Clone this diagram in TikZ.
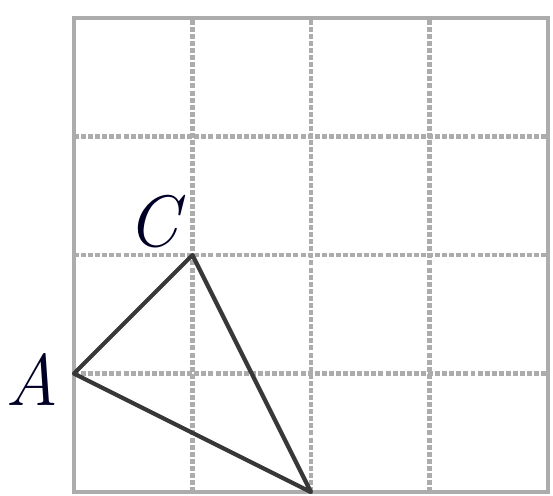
\documentclass[tikz,border=0pt]{standalone}
\usepackage{tikz}
\usetikzlibrary{
    positioning
}
\tikzstyle{gridline} = [
    gray!65,
    line width=2.2pt,
    dash pattern=on 2.4pt off 1pt
]
\tikzstyle{frame} = [
    gray!65,
    line width=2pt
]
\tikzstyle{side} = [
    black!78,
    line width=2pt,
    line join=round
]
\tikzstyle{vlabel} = [
    font=\fontsize{35}{42}\selectfont\itshape,
    text=black!85!blue,
    inner sep=0pt
]

\begin{document}
\begin{tikzpicture}[x=2cm, y=2cm]

\useasboundingbox (-0.624,-0.025) rectangle (4.042,4.152);

% Gitter
\foreach \i in {1,2,3} {
    \draw[gridline] (\i,0) -- (\i,4);
    \draw[gridline] (0,\i) -- (4,\i);
}
\draw[frame] (0,0) rectangle (4,4);

% Eckpunkte
\coordinate (A) at (0,1);
\coordinate (C) at (1,2);
\coordinate (B) at (2,0);

% Dreieck
\draw[side] (A) -- (C) -- (B) -- cycle;

% Beschriftung
\node[vlabel] (labA) at ([xshift=-0.7cm, yshift=-0.1cm]A) {A};
\node[vlabel] (labC) at ([xshift=-0.67cm, yshift=0.57cm]C) {C};

\end{tikzpicture}
\end{document}
